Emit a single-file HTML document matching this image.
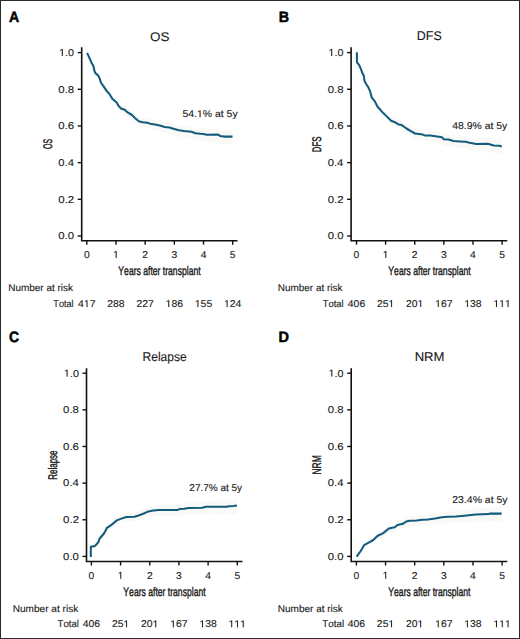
<!DOCTYPE html>
<html><head><meta charset="utf-8"><title>Figure</title>
<style>
html,body{margin:0;padding:0;background:#fff;}
body{width:520px;height:639px;overflow:hidden;}
svg{display:block;text-rendering:geometricPrecision;}
text{font-family:"Liberation Sans", sans-serif;font-kerning:none;fill:#1a1a1a;stroke:#1a1a1a;stroke-width:0.12px;}
.one{fill:#1a1a1a;stroke:#1a1a1a;stroke-width:0.12px;vector-effect:non-scaling-stroke;}
.t{font-size:9.9px;}
.ti{font-size:12.6px;}
.yl{font-size:12.5px;stroke-width:0.45px;}
.xl{font-size:12.4px;stroke-width:0.4px;}
.L{font-size:15px;font-weight:bold;fill:#000;stroke:#000;stroke-width:0.5px;}
</style></head>
<body>
<svg width="520" height="639" viewBox="0 0 520 639">
<rect x="0" y="0" width="520" height="639" fill="#fff"/>
<polygon points="87.1,51.28 89.5,56.24 91.8,61.14 93.4,63.72 94.6,69.14 95.7,71.07 98.1,72.82 99.7,75.83 100.8,79.77 103.6,83.53 106.7,88.09 109.1,90.28 109.9,91.65 112.3,95.44 116.7,99.07 118.6,102.4 121,104.91 124.8,105.97 127.2,108.29 132,111.02 134.9,113.83 138.8,117.11 142.6,117.89 147.4,118.25 151.3,119.54 155,119.73 160.8,120.97 164.6,122.07 169.4,122.45 174.2,123.72 179,124.9 183.8,125.49 191.5,126.2 195.4,127.61 200.2,128 203.7,128.12 206.5,128.76 218.1,128.31 220,129.67 223.8,130.29 232.5,130.1 232.5,144.59 223.8,144.36 220,143.55 218.1,142.1 206.5,141.97 203.7,141.19 200.2,140.89 195.4,140.24 191.5,138.63 183.8,137.49 179,136.64 174.2,135.18 169.4,133.62 164.6,132.96 160.8,131.63 155,130.02 151.3,129.58 147.4,128.04 142.6,127.35 138.8,126.3 134.9,122.74 132,119.72 127.2,116.61 124.8,114.1 121,112.72 118.6,110.01 116.7,106.51 112.3,102.48 109.9,98.45 109.1,97.01 106.7,94.57 103.6,89.68 100.8,85.59 99.7,81.52 98.1,78.3 95.7,76.21 94.6,74.12 93.4,68.51 91.8,65.66 89.5,60.29 87.1,54.56" fill="#f9f9f8" stroke="none"/>
<path d="M81.7 47.2V240.7H237.5" fill="none" stroke="#111" stroke-width="1.6" stroke-linecap="butt" stroke-linejoin="miter"/>
<path d="M77.7 236H81.7" stroke="#111" stroke-width="1.4"/>
<text x="58.31" y="239.3" textLength="15.79" lengthAdjust="spacingAndGlyphs" class="t">0.0</text>
<path d="M77.7 199.32H81.7" stroke="#111" stroke-width="1.4"/>
<text x="58.3" y="202.62" textLength="15.92" lengthAdjust="spacingAndGlyphs" class="t">0.2</text>
<path d="M77.7 162.64H81.7" stroke="#111" stroke-width="1.4"/>
<text x="58.31" y="165.94" textLength="15.67" lengthAdjust="spacingAndGlyphs" class="t">0.4</text>
<path d="M77.7 125.96H81.7" stroke="#111" stroke-width="1.4"/>
<text x="58.3" y="129.26" textLength="15.85" lengthAdjust="spacingAndGlyphs" class="t">0.6</text>
<path d="M77.7 89.28H81.7" stroke="#111" stroke-width="1.4"/>
<text x="58.3" y="92.58" textLength="15.84" lengthAdjust="spacingAndGlyphs" class="t">0.8</text>
<path d="M77.7 52.6H81.7" stroke="#111" stroke-width="1.4"/>
<text x="59.12" y="55.9" textLength="14.96" lengthAdjust="spacingAndGlyphs" class="t"> .0</text><path class="one" transform="translate(59.12,55.9) scale(0.005253,-0.004834)" d="M515 0V1237L197 1010V1180L530 1409H696V0Z"/>
<path d="M86.8 240.7V244.7" stroke="#111" stroke-width="1.4"/>
<text x="83.94" y="257.9" textLength="5.73" lengthAdjust="spacingAndGlyphs" class="t">0</text>
<path d="M115.98 240.7V244.7" stroke="#111" stroke-width="1.4"/>
<text x="113.12" y="257.9" textLength="5.73" lengthAdjust="spacingAndGlyphs" class="t"> </text><path class="one" transform="translate(113.12,257.9) scale(0.005027,-0.004834)" d="M515 0V1237L197 1010V1180L530 1409H696V0Z"/>
<path d="M145.16 240.7V244.7" stroke="#111" stroke-width="1.4"/>
<text x="142.3" y="257.9" textLength="5.73" lengthAdjust="spacingAndGlyphs" class="t">2</text>
<path d="M174.34 240.7V244.7" stroke="#111" stroke-width="1.4"/>
<text x="171.48" y="257.9" textLength="5.73" lengthAdjust="spacingAndGlyphs" class="t">3</text>
<path d="M203.52 240.7V244.7" stroke="#111" stroke-width="1.4"/>
<text x="200.66" y="257.9" textLength="5.73" lengthAdjust="spacingAndGlyphs" class="t">4</text>
<path d="M232.7 240.7V244.7" stroke="#111" stroke-width="1.4"/>
<text x="229.84" y="257.9" textLength="5.73" lengthAdjust="spacingAndGlyphs" class="t">5</text>
<polyline points="87.1,52.9 89.5,58.2 91.8,63.3 93.4,66 94.6,71.5 95.7,73.5 98.1,75.4 99.7,78.5 100.8,82.5 103.6,86.4 106.7,91.1 109.1,93.4 109.9,94.8 112.3,98.7 116.7,102.5 118.6,105.9 121,108.5 124.8,109.7 127.2,112.1 132,115 134.9,117.9 138.8,121.3 142.6,122.2 147.4,122.7 151.3,124.1 155,124.4 160.8,125.8 164.6,127 169.4,127.5 174.2,128.9 179,130.2 183.8,130.9 191.5,131.8 195.4,133.3 200.2,133.8 203.7,134 206.5,134.7 218.1,134.5 220,135.9 223.8,136.6 232.5,136.6" fill="none" stroke="#125b7c" stroke-width="2.05" stroke-linejoin="round" stroke-linecap="butt"/>
<text x="150.01" y="40.5" textLength="19.46" lengthAdjust="spacingAndGlyphs" class="ti">OS</text>
<text transform="translate(51.9,149.03) rotate(-90) scale(0.5564,1)" x="0" y="0" class="yl">OS</text>
<text x="118.36" y="275" textLength="82.25" lengthAdjust="spacingAndGlyphs" class="xl">Years after transplant</text>
<text x="182.43" y="117.2" textLength="55.24" lengthAdjust="spacingAndGlyphs" class="t">54. % at 5y</text><path class="one" transform="translate(196.97,117.2) scale(0.005107,-0.004834)" d="M515 0V1237L197 1010V1180L530 1409H696V0Z"/>
<text x="8.9" y="21.65" textLength="10.23" lengthAdjust="spacingAndGlyphs" class="L">A</text>
<text x="8.33" y="291.2" textLength="64.6" lengthAdjust="spacingAndGlyphs" class="t">Number at risk</text>
<text x="53.34" y="307" textLength="20.32" lengthAdjust="spacingAndGlyphs" class="t">Total</text>
<text x="78.13" y="307" textLength="17.34" lengthAdjust="spacingAndGlyphs" class="t">4 7</text><path class="one" transform="translate(83.91,307) scale(0.005076,-0.004834)" d="M515 0V1237L197 1010V1180L530 1409H696V0Z"/>
<text x="107.31" y="307" textLength="17.34" lengthAdjust="spacingAndGlyphs" class="t">288</text>
<text x="136.49" y="307" textLength="17.34" lengthAdjust="spacingAndGlyphs" class="t">227</text>
<text x="165.67" y="307" textLength="17.34" lengthAdjust="spacingAndGlyphs" class="t"> 86</text><path class="one" transform="translate(165.67,307) scale(0.005076,-0.004834)" d="M515 0V1237L197 1010V1180L530 1409H696V0Z"/>
<text x="194.85" y="307" textLength="17.34" lengthAdjust="spacingAndGlyphs" class="t"> 55</text><path class="one" transform="translate(194.85,307) scale(0.005076,-0.004834)" d="M515 0V1237L197 1010V1180L530 1409H696V0Z"/>
<text x="224.03" y="307" textLength="17.34" lengthAdjust="spacingAndGlyphs" class="t"> 24</text><path class="one" transform="translate(224.03,307) scale(0.005076,-0.004834)" d="M515 0V1237L197 1010V1180L530 1409H696V0Z"/>
<polygon points="356.9,50.65 356.9,60.45 359,62.86 361,66.98 362.2,70.48 363.7,73.08 364.5,78.52 366.1,81.52 368.1,84.2 370,88.4 371.8,94.91 374.7,98.16 377.6,103.73 382.4,108.83 387.2,113.44 391.1,117.19 394.9,118.45 398.8,120.72 401.7,121.12 406.5,124.37 411.3,127.02 415,129.11 422.7,129.98 424.6,130.73 430.4,130.77 437.1,131.49 441.9,132.17 443.8,134.02 448.7,134.3 453.5,135.48 460,135.83 465.8,136.09 469.6,137 476.3,138.05 487.9,137.5 493.7,139.18 499.4,139.26 501.8,139.91 501.8,154.39 499.4,153.63 493.7,153.27 487.9,151.31 476.3,151.28 469.6,149.89 465.8,148.77 460,148.2 453.5,147.49 448.7,146.04 443.8,145.48 441.9,143.52 437.1,142.56 430.4,141.43 424.6,141.02 422.7,140.15 415,138.76 411.3,136.42 406.5,133.42 401.7,129.82 398.8,129.2 394.9,126.62 391.1,125.04 387.2,120.95 382.4,115.91 377.6,110.34 374.7,104.47 371.8,100.88 370,94.16 368.1,89.72 366.1,86.77 364.5,83.54 363.7,77.97 362.2,75.13 361,71.41 359,66.87 356.9,63.79 356.9,53.99" fill="#f9f9f8" stroke="none"/>
<path d="M351.1 47.2V240.7H507.3" fill="none" stroke="#111" stroke-width="1.6" stroke-linecap="butt" stroke-linejoin="miter"/>
<path d="M347.1 236H351.1" stroke="#111" stroke-width="1.4"/>
<text x="327.71" y="239.3" textLength="15.79" lengthAdjust="spacingAndGlyphs" class="t">0.0</text>
<path d="M347.1 199.32H351.1" stroke="#111" stroke-width="1.4"/>
<text x="327.7" y="202.62" textLength="15.92" lengthAdjust="spacingAndGlyphs" class="t">0.2</text>
<path d="M347.1 162.64H351.1" stroke="#111" stroke-width="1.4"/>
<text x="327.71" y="165.94" textLength="15.67" lengthAdjust="spacingAndGlyphs" class="t">0.4</text>
<path d="M347.1 125.96H351.1" stroke="#111" stroke-width="1.4"/>
<text x="327.7" y="129.26" textLength="15.85" lengthAdjust="spacingAndGlyphs" class="t">0.6</text>
<path d="M347.1 89.28H351.1" stroke="#111" stroke-width="1.4"/>
<text x="327.7" y="92.58" textLength="15.84" lengthAdjust="spacingAndGlyphs" class="t">0.8</text>
<path d="M347.1 52.6H351.1" stroke="#111" stroke-width="1.4"/>
<text x="328.52" y="55.9" textLength="14.96" lengthAdjust="spacingAndGlyphs" class="t"> .0</text><path class="one" transform="translate(328.52,55.9) scale(0.005253,-0.004834)" d="M515 0V1237L197 1010V1180L530 1409H696V0Z"/>
<path d="M356.5 240.7V244.7" stroke="#111" stroke-width="1.4"/>
<text x="353.64" y="257.9" textLength="5.73" lengthAdjust="spacingAndGlyphs" class="t">0</text>
<path d="M385.62 240.7V244.7" stroke="#111" stroke-width="1.4"/>
<text x="382.76" y="257.9" textLength="5.73" lengthAdjust="spacingAndGlyphs" class="t"> </text><path class="one" transform="translate(382.76,257.9) scale(0.005027,-0.004834)" d="M515 0V1237L197 1010V1180L530 1409H696V0Z"/>
<path d="M414.74 240.7V244.7" stroke="#111" stroke-width="1.4"/>
<text x="411.88" y="257.9" textLength="5.73" lengthAdjust="spacingAndGlyphs" class="t">2</text>
<path d="M443.86 240.7V244.7" stroke="#111" stroke-width="1.4"/>
<text x="441" y="257.9" textLength="5.73" lengthAdjust="spacingAndGlyphs" class="t">3</text>
<path d="M472.98 240.7V244.7" stroke="#111" stroke-width="1.4"/>
<text x="470.12" y="257.9" textLength="5.73" lengthAdjust="spacingAndGlyphs" class="t">4</text>
<path d="M502.1 240.7V244.7" stroke="#111" stroke-width="1.4"/>
<text x="499.24" y="257.9" textLength="5.73" lengthAdjust="spacingAndGlyphs" class="t">5</text>
<polyline points="356.9,52.3 356.9,62.1 359,64.8 361,69.1 362.2,72.7 363.7,75.4 364.5,80.9 366.1,84 368.1,86.8 370,91.1 371.8,97.7 374.7,101.1 377.6,106.8 382.4,112.1 387.2,116.9 391.1,120.8 394.9,122.2 398.8,124.6 401.7,125.1 406.5,128.5 411.3,131.3 415,133.5 422.7,134.6 424.6,135.4 430.4,135.6 437.1,136.5 441.9,137.3 443.8,139.2 448.7,139.6 453.5,140.9 460,141.4 465.8,141.8 469.6,142.8 476.3,144 487.9,143.7 493.7,145.5 499.4,145.7 501.8,146.4" fill="none" stroke="#125b7c" stroke-width="2.05" stroke-linejoin="round" stroke-linecap="butt"/>
<text x="416.72" y="40.4" textLength="25" lengthAdjust="spacingAndGlyphs" class="ti">DFS</text>
<text transform="translate(321.3,152.35) rotate(-90) scale(0.6367,1)" x="0" y="0" class="yl">DFS</text>
<text x="388.36" y="275.1" textLength="82.25" lengthAdjust="spacingAndGlyphs" class="xl">Years after transplant</text>
<text x="452.21" y="128.9" textLength="55.06" lengthAdjust="spacingAndGlyphs" class="t">48.9% at 5y</text>
<text x="278.7" y="21.65" textLength="10.3" lengthAdjust="spacingAndGlyphs" class="L">B</text>
<text x="277.83" y="291.2" textLength="64.6" lengthAdjust="spacingAndGlyphs" class="t">Number at risk</text>
<text x="322.74" y="307" textLength="20.94" lengthAdjust="spacingAndGlyphs" class="t">Total</text>
<text x="347.83" y="307" textLength="17.34" lengthAdjust="spacingAndGlyphs" class="t">406</text>
<text x="376.95" y="307" textLength="17.34" lengthAdjust="spacingAndGlyphs" class="t">25 </text><path class="one" transform="translate(388.51,307) scale(0.005076,-0.004834)" d="M515 0V1237L197 1010V1180L530 1409H696V0Z"/>
<text x="406.07" y="307" textLength="17.34" lengthAdjust="spacingAndGlyphs" class="t">20 </text><path class="one" transform="translate(417.63,307) scale(0.005076,-0.004834)" d="M515 0V1237L197 1010V1180L530 1409H696V0Z"/>
<text x="435.19" y="307" textLength="17.34" lengthAdjust="spacingAndGlyphs" class="t"> 67</text><path class="one" transform="translate(435.19,307) scale(0.005076,-0.004834)" d="M515 0V1237L197 1010V1180L530 1409H696V0Z"/>
<text x="464.31" y="307" textLength="17.34" lengthAdjust="spacingAndGlyphs" class="t"> 38</text><path class="one" transform="translate(464.31,307) scale(0.005076,-0.004834)" d="M515 0V1237L197 1010V1180L530 1409H696V0Z"/>
<text x="493.43" y="307" textLength="17.34" lengthAdjust="spacingAndGlyphs" class="t">   </text><path class="one" transform="translate(493.43,307) scale(0.005076,-0.004834)" d="M515 0V1237L197 1010V1180L530 1409H696V0Z"/><path class="one" transform="translate(499.21,307) scale(0.005076,-0.004834)" d="M515 0V1237L197 1010V1180L530 1409H696V0Z"/><path class="one" transform="translate(504.99,307) scale(0.005076,-0.004834)" d="M515 0V1237L197 1010V1180L530 1409H696V0Z"/>
<polygon points="90.8,555.4 90.8,545.3 95.1,543.85 98.5,539.68 99.5,536.32 103.8,531.16 106.2,526.73 106.7,525.31 111,522.2 116.8,517.15 120.6,515.5 126.4,513.38 134.6,512.79 139.2,511.14 143.8,509.3 148.5,507.05 153.1,506.12 158.8,505.35 177.3,504.86 179.6,503.9 184.2,503.49 188.5,502.48 202.3,501.96 205.8,500.98 226.5,500.53 228.8,499.88 233.5,499.58 236.9,498.91 236.9,513.39 233.5,513.9 228.8,513.97 226.5,514.51 205.8,513.92 202.3,514.71 188.5,514.49 184.2,515.25 179.6,515.41 177.3,516.23 158.8,515.59 153.1,515.98 148.5,516.6 143.8,518.52 139.2,520.03 134.6,521.33 126.4,521.26 120.6,522.88 116.8,524.18 111,528.65 106.7,531.28 106.2,532.65 103.8,536.78 99.5,541.35 98.5,544.56 95.1,548.12 90.8,548.3 90.8,558.4" fill="#f9f9f8" stroke="none"/>
<path d="M86.5 368.3V561.5H242.5" fill="none" stroke="#111" stroke-width="1.6" stroke-linecap="butt" stroke-linejoin="miter"/>
<path d="M82.5 556.4H86.5" stroke="#111" stroke-width="1.4"/>
<text x="63.11" y="559.7" textLength="15.79" lengthAdjust="spacingAndGlyphs" class="t">0.0</text>
<path d="M82.5 519.76H86.5" stroke="#111" stroke-width="1.4"/>
<text x="63.1" y="523.06" textLength="15.92" lengthAdjust="spacingAndGlyphs" class="t">0.2</text>
<path d="M82.5 483.12H86.5" stroke="#111" stroke-width="1.4"/>
<text x="63.11" y="486.42" textLength="15.67" lengthAdjust="spacingAndGlyphs" class="t">0.4</text>
<path d="M82.5 446.48H86.5" stroke="#111" stroke-width="1.4"/>
<text x="63.1" y="449.78" textLength="15.85" lengthAdjust="spacingAndGlyphs" class="t">0.6</text>
<path d="M82.5 409.84H86.5" stroke="#111" stroke-width="1.4"/>
<text x="63.1" y="413.14" textLength="15.84" lengthAdjust="spacingAndGlyphs" class="t">0.8</text>
<path d="M82.5 373.2H86.5" stroke="#111" stroke-width="1.4"/>
<text x="63.92" y="376.5" textLength="14.96" lengthAdjust="spacingAndGlyphs" class="t"> .0</text><path class="one" transform="translate(63.92,376.5) scale(0.005253,-0.004834)" d="M515 0V1237L197 1010V1180L530 1409H696V0Z"/>
<path d="M91.4 561.5V565.5" stroke="#111" stroke-width="1.4"/>
<text x="88.54" y="578.7" textLength="5.73" lengthAdjust="spacingAndGlyphs" class="t">0</text>
<path d="M120.58 561.5V565.5" stroke="#111" stroke-width="1.4"/>
<text x="117.72" y="578.7" textLength="5.73" lengthAdjust="spacingAndGlyphs" class="t"> </text><path class="one" transform="translate(117.72,578.7) scale(0.005027,-0.004834)" d="M515 0V1237L197 1010V1180L530 1409H696V0Z"/>
<path d="M149.76 561.5V565.5" stroke="#111" stroke-width="1.4"/>
<text x="146.9" y="578.7" textLength="5.73" lengthAdjust="spacingAndGlyphs" class="t">2</text>
<path d="M178.94 561.5V565.5" stroke="#111" stroke-width="1.4"/>
<text x="176.08" y="578.7" textLength="5.73" lengthAdjust="spacingAndGlyphs" class="t">3</text>
<path d="M208.12 561.5V565.5" stroke="#111" stroke-width="1.4"/>
<text x="205.26" y="578.7" textLength="5.73" lengthAdjust="spacingAndGlyphs" class="t">4</text>
<path d="M237.3 561.5V565.5" stroke="#111" stroke-width="1.4"/>
<text x="234.44" y="578.7" textLength="5.73" lengthAdjust="spacingAndGlyphs" class="t">5</text>
<polyline points="90.8,556.9 90.8,546.8 95.1,545.9 98.5,542 99.5,538.7 103.8,533.8 106.2,529.5 106.7,528.1 111,525.2 116.8,520.4 120.6,518.9 126.4,517 134.6,516.7 139.2,515.2 143.8,513.5 148.5,511.4 153.1,510.6 158.8,510 177.3,510 179.6,509.1 184.2,508.8 188.5,507.9 202.3,507.7 205.8,506.8 226.5,506.8 228.8,506.2 233.5,506 236.9,505.4" fill="none" stroke="#125b7c" stroke-width="2.05" stroke-linejoin="round" stroke-linecap="butt"/>
<text x="142.57" y="361.1" textLength="44.02" lengthAdjust="spacingAndGlyphs" class="ti">Relapse</text>
<text transform="translate(56.6,479.86) rotate(-90) scale(0.6414,1)" x="0" y="0" class="yl">Relapse</text>
<text x="123.36" y="595.9" textLength="82.25" lengthAdjust="spacingAndGlyphs" class="xl">Years after transplant</text>
<text x="189.35" y="491.1" textLength="52.72" lengthAdjust="spacingAndGlyphs" class="t">27.7% at 5y</text>
<text x="9.08" y="342.35" textLength="10.05" lengthAdjust="spacingAndGlyphs" class="L">C</text>
<text x="12.67" y="611.9" textLength="65.56" lengthAdjust="spacingAndGlyphs" class="t">Number at risk</text>
<text x="57.53" y="627.3" textLength="21.36" lengthAdjust="spacingAndGlyphs" class="t">Total</text>
<text x="82.73" y="627.3" textLength="17.34" lengthAdjust="spacingAndGlyphs" class="t">406</text>
<text x="111.91" y="627.3" textLength="17.34" lengthAdjust="spacingAndGlyphs" class="t">25 </text><path class="one" transform="translate(123.47,627.3) scale(0.005076,-0.004834)" d="M515 0V1237L197 1010V1180L530 1409H696V0Z"/>
<text x="141.09" y="627.3" textLength="17.34" lengthAdjust="spacingAndGlyphs" class="t">20 </text><path class="one" transform="translate(152.65,627.3) scale(0.005076,-0.004834)" d="M515 0V1237L197 1010V1180L530 1409H696V0Z"/>
<text x="170.27" y="627.3" textLength="17.34" lengthAdjust="spacingAndGlyphs" class="t"> 67</text><path class="one" transform="translate(170.27,627.3) scale(0.005076,-0.004834)" d="M515 0V1237L197 1010V1180L530 1409H696V0Z"/>
<text x="199.45" y="627.3" textLength="17.34" lengthAdjust="spacingAndGlyphs" class="t"> 38</text><path class="one" transform="translate(199.45,627.3) scale(0.005076,-0.004834)" d="M515 0V1237L197 1010V1180L530 1409H696V0Z"/>
<text x="228.63" y="627.3" textLength="17.34" lengthAdjust="spacingAndGlyphs" class="t">   </text><path class="one" transform="translate(228.63,627.3) scale(0.005076,-0.004834)" d="M515 0V1237L197 1010V1180L530 1409H696V0Z"/><path class="one" transform="translate(234.41,627.3) scale(0.005076,-0.004834)" d="M515 0V1237L197 1010V1180L530 1409H696V0Z"/><path class="one" transform="translate(240.19,627.3) scale(0.005076,-0.004834)" d="M515 0V1237L197 1010V1180L530 1409H696V0Z"/>
<polygon points="356.6,555.1 360.7,548.9 364.1,542.84 368.2,540.29 373.3,537.13 377.4,532.94 383.2,529.79 388.9,524.97 394.7,523.56 397.6,521.16 402.8,519.78 406.2,517.37 409.6,516.57 416.5,516.06 422.3,515.19 428.1,514.63 435,513.55 441.9,512.17 447.7,511.42 455.8,510.93 461.9,510.28 468.8,509.42 475.8,508.46 488.5,507.89 489.6,507.36 501.7,507.11 501.7,521.59 489.6,521.26 488.5,521.73 475.8,521.67 468.8,522.26 461.9,522.76 455.8,523.07 447.7,523.11 441.9,523.52 435,524.49 428.1,525.15 422.3,525.34 416.5,525.82 409.6,525.85 406.2,526.41 402.8,528.57 397.6,529.55 394.7,531.72 388.9,532.64 383.2,536.95 377.4,539.53 373.3,543.28 368.2,545.84 364.1,547.81 360.7,553.29 356.6,558.32" fill="#f9f9f8" stroke="none"/>
<path d="M351.2 368.3V561.5H507.3" fill="none" stroke="#111" stroke-width="1.6" stroke-linecap="butt" stroke-linejoin="miter"/>
<path d="M347.2 556.4H351.2" stroke="#111" stroke-width="1.4"/>
<text x="327.81" y="559.7" textLength="15.79" lengthAdjust="spacingAndGlyphs" class="t">0.0</text>
<path d="M347.2 519.76H351.2" stroke="#111" stroke-width="1.4"/>
<text x="327.8" y="523.06" textLength="15.92" lengthAdjust="spacingAndGlyphs" class="t">0.2</text>
<path d="M347.2 483.12H351.2" stroke="#111" stroke-width="1.4"/>
<text x="327.81" y="486.42" textLength="15.67" lengthAdjust="spacingAndGlyphs" class="t">0.4</text>
<path d="M347.2 446.48H351.2" stroke="#111" stroke-width="1.4"/>
<text x="327.8" y="449.78" textLength="15.85" lengthAdjust="spacingAndGlyphs" class="t">0.6</text>
<path d="M347.2 409.84H351.2" stroke="#111" stroke-width="1.4"/>
<text x="327.8" y="413.14" textLength="15.84" lengthAdjust="spacingAndGlyphs" class="t">0.8</text>
<path d="M347.2 373.2H351.2" stroke="#111" stroke-width="1.4"/>
<text x="328.62" y="376.5" textLength="14.96" lengthAdjust="spacingAndGlyphs" class="t"> .0</text><path class="one" transform="translate(328.62,376.5) scale(0.005253,-0.004834)" d="M515 0V1237L197 1010V1180L530 1409H696V0Z"/>
<path d="M356.4 561.5V565.5" stroke="#111" stroke-width="1.4"/>
<text x="353.54" y="578.7" textLength="5.73" lengthAdjust="spacingAndGlyphs" class="t">0</text>
<path d="M385.54 561.5V565.5" stroke="#111" stroke-width="1.4"/>
<text x="382.68" y="578.7" textLength="5.73" lengthAdjust="spacingAndGlyphs" class="t"> </text><path class="one" transform="translate(382.68,578.7) scale(0.005027,-0.004834)" d="M515 0V1237L197 1010V1180L530 1409H696V0Z"/>
<path d="M414.68 561.5V565.5" stroke="#111" stroke-width="1.4"/>
<text x="411.82" y="578.7" textLength="5.73" lengthAdjust="spacingAndGlyphs" class="t">2</text>
<path d="M443.82 561.5V565.5" stroke="#111" stroke-width="1.4"/>
<text x="440.96" y="578.7" textLength="5.73" lengthAdjust="spacingAndGlyphs" class="t">3</text>
<path d="M472.96 561.5V565.5" stroke="#111" stroke-width="1.4"/>
<text x="470.1" y="578.7" textLength="5.73" lengthAdjust="spacingAndGlyphs" class="t">4</text>
<path d="M502.1 561.5V565.5" stroke="#111" stroke-width="1.4"/>
<text x="499.24" y="578.7" textLength="5.73" lengthAdjust="spacingAndGlyphs" class="t">5</text>
<polyline points="356.6,556.7 360.7,551 364.1,545.2 368.2,542.9 373.3,540 377.4,536 383.2,533.1 388.9,528.5 394.7,527.3 397.6,525 402.8,523.8 406.2,521.5 409.6,520.8 416.5,520.5 422.3,519.8 428.1,519.4 435,518.5 441.9,517.3 447.7,516.7 455.8,516.4 461.9,515.9 468.8,515.2 475.8,514.4 488.5,514.1 489.6,513.6 501.7,513.6" fill="none" stroke="#125b7c" stroke-width="2.05" stroke-linejoin="round" stroke-linecap="butt"/>
<text x="414.67" y="360.7" textLength="29.85" lengthAdjust="spacingAndGlyphs" class="ti">NRM</text>
<text transform="translate(321.3,474.59) rotate(-90) scale(0.6776,1)" x="0" y="0" class="yl">NRM</text>
<text x="388.36" y="596" textLength="82.05" lengthAdjust="spacingAndGlyphs" class="xl">Years after transplant</text>
<text x="452.32" y="502.9" textLength="55.15" lengthAdjust="spacingAndGlyphs" class="t">23.4% at 5y</text>
<text x="278.48" y="342.35" textLength="10.48" lengthAdjust="spacingAndGlyphs" class="L">D</text>
<text x="277.83" y="611.8" textLength="65.01" lengthAdjust="spacingAndGlyphs" class="t">Number at risk</text>
<text x="322.33" y="627.2" textLength="21.78" lengthAdjust="spacingAndGlyphs" class="t">Total</text>
<text x="347.73" y="627.2" textLength="17.34" lengthAdjust="spacingAndGlyphs" class="t">406</text>
<text x="376.87" y="627.2" textLength="17.34" lengthAdjust="spacingAndGlyphs" class="t">25 </text><path class="one" transform="translate(388.43,627.2) scale(0.005076,-0.004834)" d="M515 0V1237L197 1010V1180L530 1409H696V0Z"/>
<text x="406.01" y="627.2" textLength="17.34" lengthAdjust="spacingAndGlyphs" class="t">20 </text><path class="one" transform="translate(417.57,627.2) scale(0.005076,-0.004834)" d="M515 0V1237L197 1010V1180L530 1409H696V0Z"/>
<text x="435.15" y="627.2" textLength="17.34" lengthAdjust="spacingAndGlyphs" class="t"> 67</text><path class="one" transform="translate(435.15,627.2) scale(0.005076,-0.004834)" d="M515 0V1237L197 1010V1180L530 1409H696V0Z"/>
<text x="464.29" y="627.2" textLength="17.34" lengthAdjust="spacingAndGlyphs" class="t"> 38</text><path class="one" transform="translate(464.29,627.2) scale(0.005076,-0.004834)" d="M515 0V1237L197 1010V1180L530 1409H696V0Z"/>
<text x="493.43" y="627.2" textLength="17.34" lengthAdjust="spacingAndGlyphs" class="t">   </text><path class="one" transform="translate(493.43,627.2) scale(0.005076,-0.004834)" d="M515 0V1237L197 1010V1180L530 1409H696V0Z"/><path class="one" transform="translate(499.21,627.2) scale(0.005076,-0.004834)" d="M515 0V1237L197 1010V1180L530 1409H696V0Z"/><path class="one" transform="translate(504.99,627.2) scale(0.005076,-0.004834)" d="M515 0V1237L197 1010V1180L530 1409H696V0Z"/>
<rect x="0.5" y="0.5" width="519" height="638" fill="none" stroke="#2a2a2a" stroke-width="1"/>
</svg>
</body></html>
